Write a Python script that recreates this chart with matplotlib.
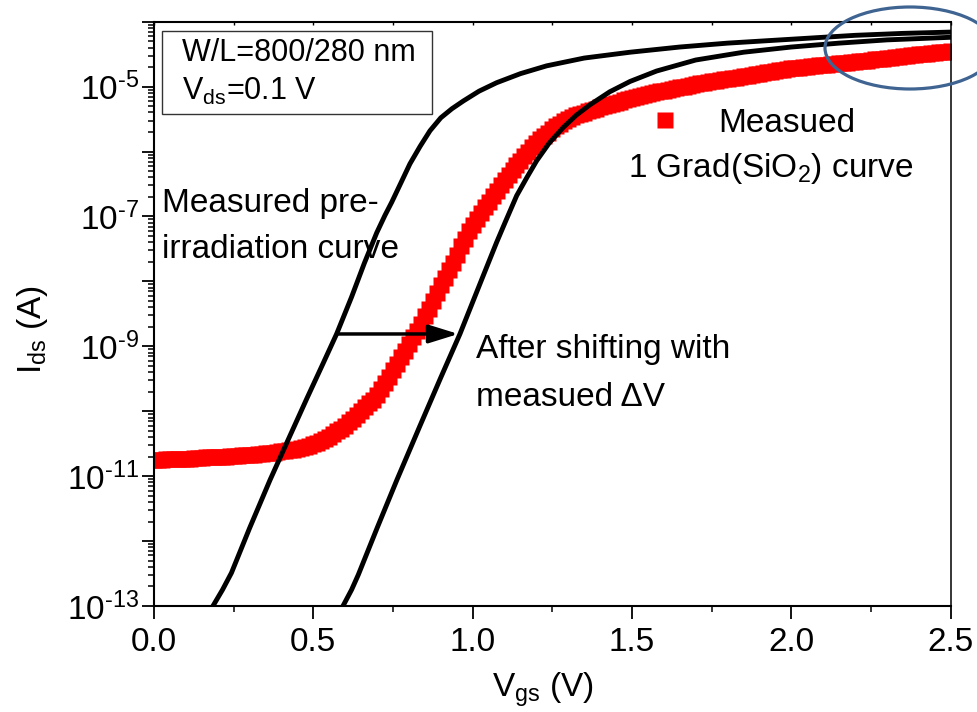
import matplotlib
matplotlib.use('Agg')
import matplotlib.pyplot as plt
import numpy as np
from matplotlib.ticker import FixedLocator, LogLocator, FuncFormatter, MultipleLocator, NullFormatter
from matplotlib.patches import Ellipse, Rectangle
from matplotlib.lines import Line2D

plt.rcParams['font.family'] = ['Liberation Sans', 'DejaVu Sans']
plt.rcParams['mathtext.fontset'] = 'custom'
plt.rcParams['mathtext.rm'] = 'Liberation Sans'
plt.rcParams['mathtext.it'] = 'Liberation Sans:italic'
plt.rcParams['mathtext.bf'] = 'Liberation Sans:bold'
plt.rcParams['mathtext.default'] = 'regular'

# ---------------- data ----------------
# Measured after 1 Grad(SiO2): Vgs (V) every 12.5 mV and log10(Ids / A)
meas_vgs = np.round(np.arange(0, 201) * 0.0125, 4)
meas_log_ids = [
    -10.75, -10.75, -10.75, -10.74, -10.74, -10.74, -10.74, -10.73,
    -10.73, -10.73, -10.72, -10.72, -10.72, -10.71, -10.71, -10.71,
    -10.70, -10.70, -10.70, -10.69, -10.69, -10.69, -10.68, -10.68,
    -10.67, -10.67, -10.66, -10.66, -10.65, -10.65, -10.64, -10.63,
    -10.62, -10.61, -10.60, -10.59, -10.58, -10.56, -10.55, -10.53,
    -10.51, -10.49, -10.46, -10.43, -10.39, -10.35, -10.31, -10.27,
    -10.22, -10.17, -10.12, -10.06, -10.00, -9.94, -9.88, -9.82,
    -9.75, -9.66, -9.57, -9.47, -9.37, -9.27, -9.17, -9.07,
    -8.96, -8.86, -8.76, -8.65, -8.54, -8.42, -8.30, -8.18,
    -8.06, -7.95, -7.83, -7.71, -7.59, -7.46, -7.34, -7.23,
    -7.13, -7.04, -6.95, -6.86, -6.78, -6.69, -6.61, -6.52,
    -6.44, -6.36, -6.28, -6.21, -6.14, -6.07, -6.00, -5.93,
    -5.87, -5.81, -5.76, -5.71, -5.66, -5.61, -5.57, -5.53,
    -5.50, -5.47, -5.44, -5.42, -5.40, -5.38, -5.36, -5.34,
    -5.32, -5.30, -5.28, -5.26, -5.25, -5.23, -5.21, -5.19,
    -5.18, -5.16, -5.15, -5.13, -5.12, -5.10, -5.09, -5.07,
    -5.06, -5.05, -5.03, -5.02, -5.01, -5.00, -4.99, -4.97,
    -4.96, -4.95, -4.94, -4.93, -4.92, -4.91, -4.90, -4.89,
    -4.88, -4.87, -4.86, -4.85, -4.84, -4.83, -4.82, -4.81,
    -4.80, -4.79, -4.78, -4.77, -4.76, -4.75, -4.74, -4.73,
    -4.72, -4.72, -4.71, -4.70, -4.70, -4.69, -4.68, -4.67,
    -4.67, -4.66, -4.65, -4.65, -4.64, -4.63, -4.63, -4.62,
    -4.62, -4.61, -4.60, -4.60, -4.59, -4.58, -4.58, -4.57,
    -4.56, -4.56, -4.55, -4.54, -4.53, -4.53, -4.52, -4.51,
    -4.50, -4.50, -4.49, -4.48, -4.48, -4.47, -4.46, -4.46,
    -4.45,
]

# Measured pre-irradiation curve
pre_vgs = [0.170, 0.185, 0.215, 0.243, 0.300, 0.364, 0.420, 0.480, 0.530, 0.573,
           0.620, 0.660, 0.699, 0.725, 0.746, 0.775, 0.803, 0.835, 0.866, 0.900,
           0.935, 0.971, 1.020, 1.075, 1.150, 1.232, 1.350, 1.494, 1.650, 1.800,
           2.000, 2.200, 2.350, 2.500]
pre_log_ids = [-13.12, -13.00, -12.75, -12.49, -11.80, -11.06, -10.45, -9.80, -9.27, -8.81,
               -8.24, -7.72, -7.25, -6.98, -6.78, -6.48, -6.19, -5.92, -5.68, -5.48,
               -5.34, -5.22, -5.07, -4.94, -4.80, -4.68, -4.56, -4.47, -4.39, -4.33,
               -4.27, -4.21, -4.18, -4.16]

# After shifting with measured dV
shift_vgs = [0.580, 0.593, 0.620, 0.641, 0.700, 0.762, 0.835, 0.900, 0.960, 1.030,
             1.075, 1.101, 1.138, 1.170, 1.201, 1.240, 1.284, 1.325, 1.368, 1.430,
             1.494, 1.577, 1.700, 1.850, 2.000, 2.150, 2.300, 2.500]
shift_log_ids = [-13.12, -13.00, -12.75, -12.52, -11.80, -11.06, -10.22, -9.48, -8.81, -7.95,
                 -7.40, -7.10, -6.68, -6.40, -6.14, -5.87, -5.63, -5.44, -5.28, -5.08,
                 -4.92, -4.76, -4.59, -4.47, -4.39, -4.33, -4.28, -4.24]

arrow_start_v = 0.573
arrow_end_v = 0.955
arrow_level = 10 ** -8.81

# ---------------- figure ----------------
W, H = 978, 712
fig = plt.figure(figsize=(W / 100, H / 100), dpi=100)
ax = fig.add_axes([154 / W, 106 / H, (950.7 - 154) / W, (606 - 21.7) / H])

def fx(px):
    return px / W

def fy(py):
    return 1 - py / H

ax.set_yscale('log')
ax.set_xlim(0, 2.5)
ax.set_ylim(1e-13, 1e-4)

ax.plot(meas_vgs, 10 ** np.array(meas_log_ids), 's', color='#ff0000', ms=11.5,
        mec='none', zorder=2)
ax.plot(pre_vgs, 10 ** np.array(pre_log_ids), '-', color='black', lw=3.5, zorder=3)
ax.plot(shift_vgs, 10 ** np.array(shift_log_ids), '-', color='black', lw=3.5, zorder=3)

ax.annotate('', xy=(arrow_end_v, arrow_level), xytext=(arrow_start_v, arrow_level),
            arrowprops=dict(arrowstyle='-|>,head_length=0.9,head_width=0.28',
                            color='black', lw=2.5, mutation_scale=20,
                            shrinkA=0, shrinkB=0), zorder=4)

# ticks
ax.xaxis.set_major_locator(MultipleLocator(0.5))
ax.xaxis.set_minor_locator(MultipleLocator(0.25))
ax.xaxis.set_major_formatter(FuncFormatter(lambda v, p: f'{v:.1f}'))
ax.yaxis.set_major_locator(FixedLocator([10.0 ** e for e in range(-13, -3)]))
ax.yaxis.set_minor_locator(LogLocator(base=10, subs=np.arange(2, 10), numticks=50))
ax.yaxis.set_minor_formatter(NullFormatter())

def yfmt(v, p):
    e = int(round(np.log10(v)))
    if e % 2 != 0:
        return r'$10^{\text{-}%d}$' % abs(e)
    return ''

ax.yaxis.set_major_formatter(FuncFormatter(yfmt))

ax.tick_params(axis='both', which='major', direction='out', length=9, width=1.3,
               labelsize=24, top=False, right=False)
ax.tick_params(axis='both', which='minor', direction='out', length=4.5, width=1.1,
               top=False, right=False)
ax.tick_params(axis='x', which='major', pad=6)
ax.tick_params(axis='y', which='major', pad=2)

sec = ax.secondary_xaxis('top')
sec.set_xticks(np.arange(0, 2.51, 0.25))
sec.tick_params(direction='in', length=2.5, width=1.0, labeltop=False)
sec.spines['top'].set_visible(False)

for s in ['left', 'bottom', 'top']:
    ax.spines[s].set_linewidth(1.5)
ax.spines['right'].set_linewidth(1.1)

# labels
fig.text(fx(492), fy(696.7), r'$V_{gs}$ (V)', fontsize=24, ha='left', va='baseline')
fig.text(fx(33), fy(330), r'$I_{ds}$ (A)', fontsize=24, rotation=90,
         ha='center', va='center')

# annotations
fig.text(fx(162), fy(212), 'Measured pre-', fontsize=24, va='baseline')
fig.text(fx(162), fy(258), 'irradiation curve', fontsize=24, va='baseline')
fig.text(fx(476), fy(358), 'After shifting with', fontsize=24, va='baseline')
fig.text(fx(476), fy(406), 'measued \u0394V', fontsize=24, va='baseline')
fig.text(fx(718), fy(131.7), 'Measued', fontsize=24, va='baseline')
fig.text(fx(628), fy(177.3), r'1 Grad(SiO$_2$) curve', fontsize=24, va='baseline')
fig.add_artist(Line2D([fx(665.5)], [fy(119.5)], marker='s', ms=11.5, color='#ff0000',
                      mec='none', transform=fig.transFigure))

# info box
fig.add_artist(Rectangle((fx(162.3), fy(114.3)), fx(432.3) - fx(162.3), fy(31) - fy(114.3),
                         transform=fig.transFigure, fill=True, facecolor='white',
                         edgecolor='#333333', lw=1.0))
fig.text(fx(181.7), fy(61), 'W/L=800/280 nm', fontsize=22, va='baseline')
fig.text(fx(181.7), fy(100), r'$V_{ds}$=0.1 V', fontsize=22, va='baseline')

# highlight ellipse
fig.add_artist(Ellipse((fx(910), fy(48)), 170 / W, 82 / H, transform=fig.transFigure,
                       fill=False, edgecolor='#3f6491', lw=2.3))

fig.savefig('out.png', dpi=100)
